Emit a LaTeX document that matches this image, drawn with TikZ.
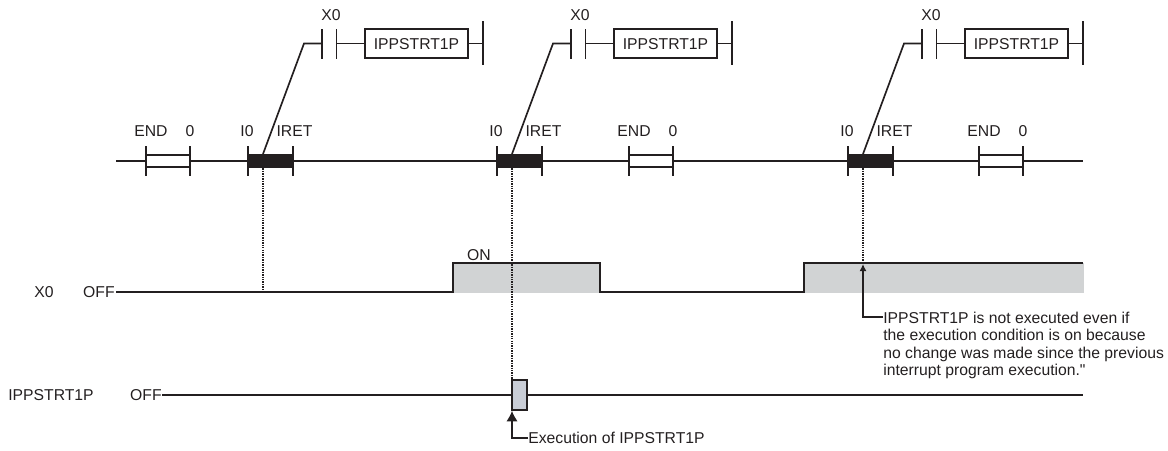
\documentclass[tikz,border=0pt]{standalone}
\usepackage{fontspec}
\setmainfont{Liberation Sans}
\newfontfamily\straightfont{Liberation Sans}
\usepackage{xcolor}
\usetikzlibrary{arrows.meta}
\definecolor{inkblack}{HTML}{231F20}
\definecolor{ongray}{HTML}{D1D3D4}
\definecolor{pulsegray}{HTML}{C9CDD6}
\tikzset{
  wire/.style={draw=inkblack, line width=0.95pt},
  dots/.style={wire, line width=1.1pt, dash pattern=on 0.8pt off 0.6pt},
  txt/.style={font=\fontsize{8.95}{9.96}\selectfont, text=inkblack, inner sep=0pt},
  instbox/.style={wire, fill=white, minimum width=2.06cm, minimum height=0.58cm, inner sep=0pt},
  scanbox/.style={wire, fill=white, minimum width=0.88cm, minimum height=0.24cm, inner sep=0pt},
  intbox/.style={wire, fill=inkblack, minimum width=0.88cm, minimum height=0.26cm, inner sep=0pt}
}
\begin{document}
\begin{tikzpicture}[x=0.02cm, y=-0.02cm]
        \useasboundingbox (0,0) rectangle (1168,450);
        % scan line
        \coordinate (scanstart) at (116,161);
        \coordinate (scanend) at (1083,161);
        \draw[wire] (scanstart) -- (scanend);
        % END blocks
        \foreach \x/\n in {168/a, 651/b, 1001/c} {
          \node[scanbox] (end\n) at (\x,161) {};
          \draw[wire] (\x-22,146) -- (\x-22,176);
          \draw[wire] (\x+22,146) -- (\x+22,176);
          \node[txt] (endlabel\n) at (\x-17,131) {END};
          \node[txt] (zero\n) at (\x+22,131) {0};
        }
        % interrupt blocks and ladder
        \foreach \x/\n in {270.5/a, 519.5/b, 870.5/c} {
          \node[intbox] (int\n) at (\x,161) {};
          \draw[wire] (\x-22.5,146) -- (\x-22.5,176);
          \draw[wire] (\x+22.5,146) -- (\x+22.5,176);
          \node[txt] (iz\n) at (\x-23.5,131) {I0};
          \node[txt] (iret\n) at (\x+24,131) {IRET};
          \coordinate (from\n) at (\x-7.5,154);
          \coordinate (bend\n) at (\x+33.5,43.5);
          \coordinate (cona\n) at (\x+51.5,43.5);
          \coordinate (conb\n) at (\x+66,43.5);
          \coordinate (rail\n) at (\x+212.5,43.5);
          \node[instbox] (inst\n) at (\x+146,43.5) {};
          \node[txt] (instlabel\n) at (\x+146,44) {IPPSTRT1P};
          \node[txt] (xz\n) at (\x+60.5,15) {X0};
          \draw[wire] (from\n) -- (bend\n) -- (cona\n);
          \draw[wire] (\x+51.5,29) -- (\x+51.5,59);
          \draw[wire] (\x+66,29) -- (\x+66,59);
          \draw[wire] (conb\n) -- (inst\n.west);
          \draw[wire] (inst\n.east) -- (rail\n);
          \draw[wire] (\x+212.5,21) -- (\x+212.5,65);
        }
        % X0 signal
        \fill[ongray] (453,263) rectangle (600,293);
        \fill[ongray] (804,263) rectangle (1084,293);
        \draw[wire, line width=1.05pt] (116,292) -- (453,292) -- (453,263) -- (600,263) -- (600,292) -- (804,292) -- (804,263) -- (1083,263);
        \node[txt] (xzero) at (44,292) {X0};
        \node[txt, anchor=east] (xoff) at (115,292) {OFF};
        \node[txt] (onlabel) at (479,255) {ON};
        % IPPSTRT1P signal
        \node[txt, anchor=west] (instname) at (8,395) {IPPSTRT1P};
        \node[txt, anchor=east] (instoff) at (162,395) {OFF};
        \draw[wire] (instoff.east) -- (1083,395);
        \node[wire, fill=pulsegray, minimum width=0.3cm, minimum height=0.6cm, inner sep=0pt] (pulse) at (519.5,395) {};
        % dotted lines
        \draw[dots] (froma |- inta.south) -- (froma |- 0,292);
        \draw[dots] (fromb |- intb.south) -- (fromb |- pulse.north);
        \draw[dots] (fromc |- intc.south) -- (fromc |- 0,263);
        % notes
        \node[txt, anchor=north west, align=left] (note) at (883,311.5) {IPPSTRT1P is not executed even if\\the execution condition is on because\\no change was made since the previous\\interrupt program execution.{\straightfont\symbol{34}}};
        \draw[wire, -{Latex[length=4pt,width=4pt]}] (note.west |- 0,317) -- (fromc |- 0,317) -- (fromc |- 0,264);
        \node[txt, anchor=west] (execlabel) at (528,438) {Execution of IPPSTRT1P};
        \draw[wire, -{Latex[length=6pt,width=6.5pt]}] (execlabel.west) -- (fromb |- execlabel.west) -- (fromb |- pulse.south);
\end{tikzpicture}
\end{document}
